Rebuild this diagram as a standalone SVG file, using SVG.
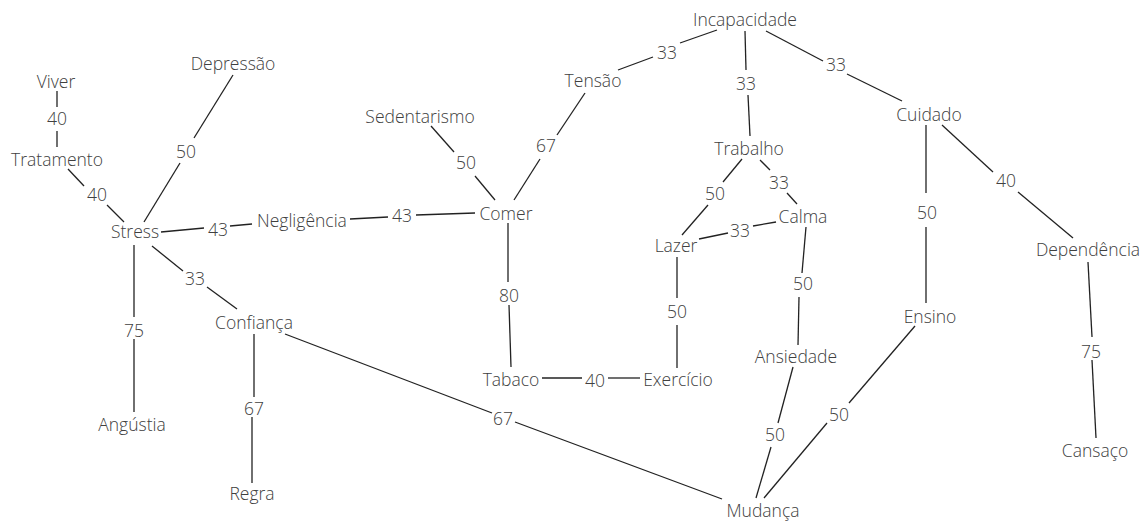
<svg xmlns="http://www.w3.org/2000/svg" width="1147" height="522" viewBox="0 0 1147 522">
<style>
text{font-family:"Open Sans","Noto Sans",sans-serif;font-size:17.5px;font-weight:300;fill:#404040;text-anchor:middle}
.e line{stroke:#222;stroke-width:1.3;fill:none}
</style>
<rect width="1147" height="522" fill="#fff"/>
<g id="connectors" class="e">
<line x1="57" y1="91" x2="57" y2="107"/><line x1="57" y1="131" x2="57" y2="147"/>
<line x1="68" y1="169" x2="84" y2="186"/><line x1="107" y1="205" x2="124" y2="222"/>
<line x1="233" y1="75" x2="194" y2="138"/><line x1="180" y1="163" x2="144" y2="222"/>
<line x1="161" y1="232" x2="204" y2="228"/><line x1="230" y1="226" x2="252" y2="224"/>
<line x1="350" y1="219" x2="388" y2="217"/><line x1="416" y1="215" x2="475" y2="213"/>
<line x1="618" y1="70" x2="653" y2="57"/><line x1="680" y1="43" x2="717" y2="30"/>
<line x1="745" y1="31" x2="746" y2="70"/><line x1="748" y1="95" x2="750" y2="136"/>
<line x1="431" y1="126" x2="454" y2="152"/><line x1="475" y1="176" x2="495" y2="200"/>
<line x1="585" y1="93" x2="557" y2="135"/><line x1="540" y1="159" x2="514" y2="200"/>
<line x1="766" y1="31" x2="823" y2="61"/><line x1="847" y1="74" x2="902" y2="101"/>
<line x1="742" y1="159" x2="723" y2="182"/><line x1="708" y1="205" x2="682" y2="235"/>
<line x1="760" y1="160" x2="770" y2="170"/><line x1="787" y1="193" x2="797" y2="204"/>
<line x1="699" y1="239" x2="728" y2="233"/><line x1="753" y1="226" x2="776" y2="222"/>
<line x1="926" y1="125" x2="926" y2="193"/><line x1="926" y1="227" x2="926" y2="303"/>
<line x1="942" y1="125" x2="993" y2="172"/><line x1="1018" y1="192" x2="1073" y2="238"/>
<line x1="1088" y1="262" x2="1092" y2="337"/><line x1="1092" y1="360" x2="1096" y2="438"/>
<line x1="152" y1="246" x2="183" y2="271"/><line x1="207" y1="287" x2="237" y2="309"/>
<line x1="134" y1="245" x2="134" y2="317"/><line x1="134" y1="339" x2="134" y2="412"/>
<line x1="254" y1="334" x2="254" y2="397"/><line x1="252" y1="417" x2="252" y2="483"/>
<line x1="285" y1="334" x2="492" y2="413"/><line x1="515" y1="422" x2="722" y2="499"/>
<line x1="508" y1="223" x2="508" y2="282"/><line x1="509" y1="305" x2="511" y2="367"/>
<line x1="542" y1="378" x2="582" y2="378"/><line x1="608" y1="378" x2="640" y2="378"/>
<line x1="677" y1="257" x2="677" y2="298"/><line x1="677" y1="325" x2="677" y2="368"/>
<line x1="806" y1="227" x2="802" y2="273"/><line x1="799" y1="297" x2="798" y2="345"/>
<line x1="793" y1="367" x2="778" y2="423"/><line x1="771" y1="447" x2="756" y2="498"/>
<line x1="915" y1="326" x2="849" y2="403"/><line x1="827" y1="423" x2="764" y2="498"/>
</g>
<g id="edge-labels">
<text x="57" y="125">40</text>
<text x="97" y="201">40</text>
<text x="186" y="158">50</text>
<text x="218" y="236">43</text>
<text x="402" y="222">43</text>
<text x="134" y="337">75</text>
<text x="195" y="285">33</text>
<text x="254" y="415">67</text>
<text x="503" y="425">67</text>
<text x="466" y="169">50</text>
<text x="546" y="152">67</text>
<text x="667" y="59">33</text>
<text x="746" y="90">33</text>
<text x="836" y="71">33</text>
<text x="509" y="302">80</text>
<text x="595" y="387">40</text>
<text x="677" y="318">50</text>
<text x="715" y="200">50</text>
<text x="779" y="189">33</text>
<text x="740" y="237">33</text>
<text x="803" y="290">50</text>
<text x="775" y="441">50</text>
<text x="927" y="219">50</text>
<text x="1006" y="187">40</text>
<text x="839" y="421">50</text>
<text x="1091" y="358">75</text>
</g>
<g id="n-viver"><text x="56" y="88">Viver</text></g>
<g id="n-tratamento"><text x="57" y="166">Tratamento</text></g>
<g id="n-depressao"><text x="233" y="70">Depressão</text></g>
<g id="n-stress"><text x="135" y="238">Stress</text></g>
<g id="n-negligencia"><text x="302" y="227">Negligência</text></g>
<g id="n-comer"><text x="506" y="220">Comer</text></g>
<g id="n-sedentarismo"><text x="420" y="123">Sedentarismo</text></g>
<g id="n-tensao"><text x="593" y="87">Tensão</text></g>
<g id="n-incapacidade"><text x="745" y="26">Incapacidade</text></g>
<g id="n-trabalho"><text x="749" y="155">Trabalho</text></g>
<g id="n-cuidado"><text x="929" y="121">Cuidado</text></g>
<g id="n-calma"><text x="803" y="223">Calma</text></g>
<g id="n-lazer"><text x="676" y="252">Lazer</text></g>
<g id="n-dependencia"><text x="1088" y="256">Dependência</text></g>
<g id="n-confianca"><text x="254" y="329">Confiança</text></g>
<g id="n-angustia"><text x="132" y="431">Angústia</text></g>
<g id="n-regra"><text x="252" y="500">Regra</text></g>
<g id="n-tabaco"><text x="511" y="386">Tabaco</text></g>
<g id="n-exercicio"><text x="678" y="386">Exercício</text></g>
<g id="n-ansiedade"><text x="796" y="363">Ansiedade</text></g>
<g id="n-ensino"><text x="930" y="323">Ensino</text></g>
<g id="n-mudanca"><text x="763" y="517">Mudança</text></g>
<g id="n-cansaco"><text x="1095" y="457">Cansaço</text></g>
</svg>
